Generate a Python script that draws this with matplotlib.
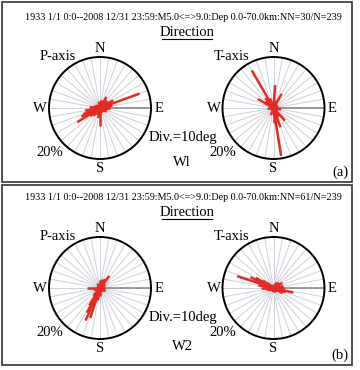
import numpy as np
import matplotlib.pyplot as plt
from matplotlib.patches import Rectangle

plt.rcParams['font.family'] = ['Liberation Serif', 'DejaVu Serif']

# data: azimuth (deg, clockwise from N) and length (%) of each ray
p1_az = [70, 238, 245, 250, 260, 265, 275, 230, 220, 180, 190, 200, 30, 45, 60, 80, 90, 100, 120, 10, 350, 300, 160, 15, 140, 285]
p1_len = [16.5, 10.5, 8, 7, 6, 4, 4, 5, 4, 7, 4, 3, 5, 4, 6, 5, 4, 3, 3, 3, 2.5, 2, 2, 3, 2, 2.5]
t1_az = [330, 171, 4, 30, 300, 138, 160, 180, 320, 340, 310, 20, 150, 100, 200, 270, 60]
t1_len = [17, 19, 9, 6.4, 7, 6.7, 8, 6, 5, 4, 4, 3, 4, 3, 3, 2.5, 2]
p2_az = [204, 198, 208, 212, 38, 270, 30, 20, 10, 0, 190, 180, 220, 120, 90, 60, 330, 250]
p2_len = [14, 12.4, 11, 8, 6, 5, 4, 3.5, 3, 3, 5, 3, 4, 2.5, 2, 2.5, 2, 2.5]
t2_az = [288, 103, 295, 300, 280, 270, 305, 60, 45, 90, 110, 120, 310, 260, 250, 80, 30, 240]
t2_len = [15, 8, 10, 8, 6, 5, 5, 4, 3, 4, 5, 4, 3, 3, 2.5, 4, 2.5, 2]

title_a = "1933 1/1 0:0--2008 12/31 23:59:M5.0<=>9.0:Dep 0.0-70.0km:NN=30/N=239"
title_b = "1933 1/1 0:0--2008 12/31 23:59:M5.0<=>9.0:Dep 0.0-70.0km:NN=61/N=239"

W, H = 360, 370
fig = plt.figure(figsize=(W / 100, H / 100), dpi=100)


def fx(x):
    return x / W


def fy(y):
    return 1 - y / H


def rose(cx, cy, r, az, length):
    ax = fig.add_axes([fx(cx - r), fy(cy + r), 2 * r / W, 2 * r / H], projection='polar')
    ax.set_theta_zero_location('N')
    ax.set_theta_direction(-1)
    ax.set_ylim(0, 20)
    ax.set_yticks([])
    ax.set_xticks(np.radians(np.arange(0, 360, 10)))
    ax.set_xticklabels([])
    ax.grid(True, color='#cdd1d9', lw=0.7)
    ax.spines['polar'].set_linewidth(1.4)
    ax.plot([np.radians(90)] * 2, [0, 20], color='#8a8a8a', lw=1.2)
    ax.vlines(np.radians(az), 0, length, color='#e42a22', lw=1.8)
    ax.plot(0, 0, 'o', color='#e42a22', ms=5)
    return ax


for top, off, title, pa, ta, tag, lab in [
    (2, 0, title_a, (p1_az, p1_len), (t1_az, t1_len), 'Wl', '(a)'),
    (185, -3, title_b, (p2_az, p2_len), (t2_az, t2_len), 'W2', '(b)'),
]:
    fig.patches.append(Rectangle((fx(2), fy(top + 180)), 350 / W, 180 / H,
                                 transform=fig.transFigure, fill=False,
                                 ec='#333333', lw=1.2))
    fig.text(fx(183), fy(top + 16 + off), title, fontsize=7.3, ha='center', va='center')
    fig.text(fx(187), fy(top + 30 + off), 'Direction', fontsize=10.5, ha='center', va='center')
    fig.lines.append(plt.Line2D([fx(162), fx(212)], [fy(top + 37 + off)] * 2,
                                transform=fig.transFigure, color='black', lw=0.8))
    cy = top + 106 + off
    for cx, data, name, pctx in [(100, pa, 'P-axis', 50), (273.5, ta, 'T-axis', 223)]:
        rose(cx, cy, 51, data[0], data[1])
        fig.text(fx(cx), fy(cy - 59), 'N', fontsize=10.5, ha='center', va='center')
        fig.text(fx(cx), fy(cy + 60), 'S', fontsize=10.5, ha='center', va='center')
        fig.text(fx(cx - 60), fy(cy), 'W', fontsize=10.5, ha='center', va='center')
        fig.text(fx(cx + 59), fy(cy), 'E', fontsize=10.5, ha='center', va='center')
        fig.text(fx(cx - 42), fy(cy - 52), name, fontsize=10.5, ha='center', va='center')
        fig.text(fx(pctx), fy(cy + 44), '20%', fontsize=10.5, ha='center', va='center')
    fig.text(fx(183), fy(top + 135 + off), 'Div.=10deg', fontsize=10.5, ha='center', va='center')
    fig.text(fx(182), fy(top + 161), tag, fontsize=10.5, ha='center', va='center')
    fig.text(fx(340), fy(top + 170), lab, fontsize=10.5, ha='center', va='center')

fig.savefig('out.png', dpi=100)
